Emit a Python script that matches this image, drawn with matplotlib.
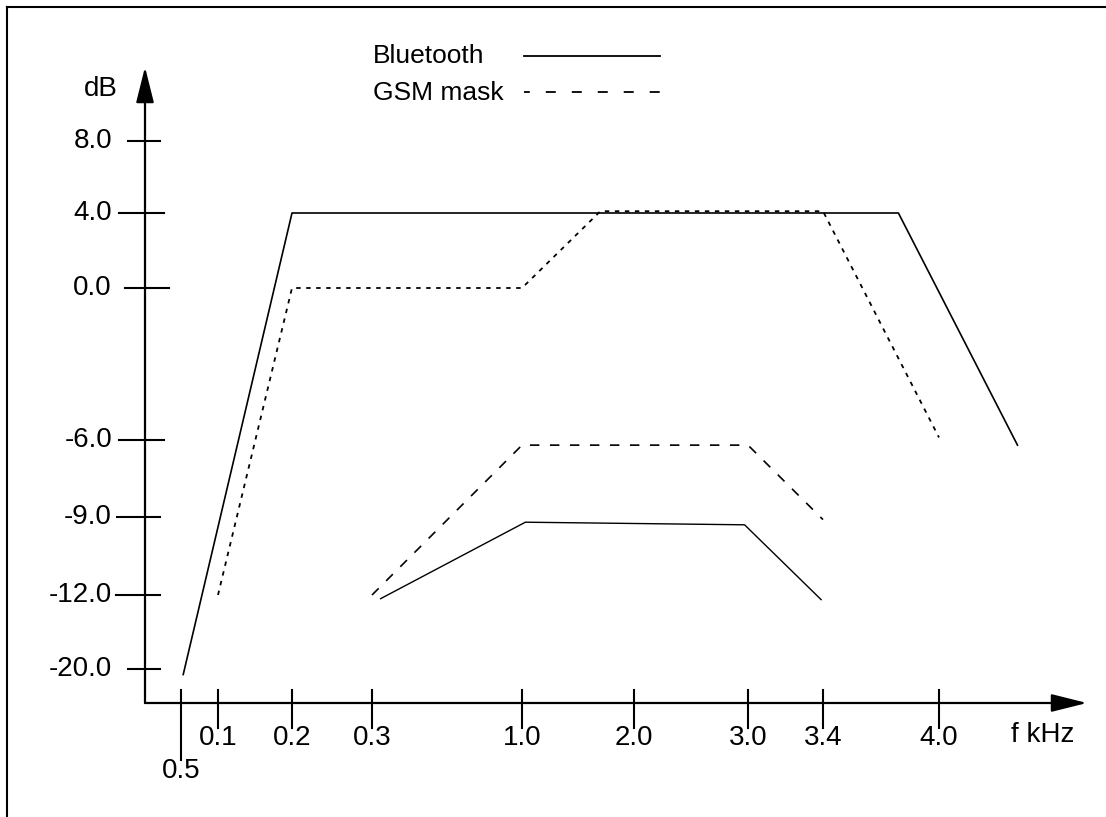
import numpy as np
import matplotlib
matplotlib.use('Agg')
import matplotlib.pyplot as plt
from matplotlib.lines import Line2D

plt.rcParams['font.family'] = ['Liberation Sans', 'DejaVu Sans']
plt.rcParams['lines.scale_dashes'] = False

# axis ticks
freq_ticks = [0.05, 0.1, 0.2, 0.3, 1.0, 2.0, 3.0, 3.4, 4.0]
freq_labels = ['0.5', '0.1', '0.2', '0.3', '1.0', '2.0', '3.0', '3.4', '4.0']
db_ticks = [8.0, 4.0, 0.0, -6.0, -9.0, -12.0, -20.0]
db_labels = ['8.0', '4.0', '0.0', '-6.0', '-9.0', '-12.0', '-20.0']

# curves, (kHz, dB)
bt_freq = [0.053, 0.2, 3.79, 4.47]
bt_db = [-20.6, 4.0, 4.0, -6.2]
gsm_freq = [0.1, 0.2, 1.0, 1.7, 3.4, 4.0]
gsm_db = [-12.0, 0.0, 0.0, 4.1, 4.1, -5.9]
bt2_freq = [0.34, 1.03, 2.97, 3.39]
bt2_db = [-12.4, -9.2, -9.3, -12.5]
gsm2_freq = [0.3, 1.0, 3.0, 3.4]
gsm2_db = [-12.0, -6.2, -6.2, -9.1]

W, H = 1106, 817

# sketch is not drawn to scale -> piecewise linear layout of both axes (figure pixels)
x_knots = [-0.2, 0.0, 0.05, 0.1, 0.2, 0.3, 1.0, 2.0, 3.0, 3.4, 4.0, 5.0]
x_pix = np.array([0, 145, 181, 218, 292, 372, 522, 634, 748, 823, 939, 1106])
y_knots = [-36.0, -20.0, -12.0, -9.0, -6.0, 0.0, 4.0, 8.0, 16.0]
y_pix = H - np.array([817, 669, 595, 517, 440, 288, 213, 141, 0])


def fwd_x(v):
    return np.interp(v, x_knots, x_pix)


def inv_x(p):
    return np.interp(p, x_pix, x_knots)


def fwd_y(v):
    return np.interp(v, y_knots, y_pix)


def inv_y(p):
    return np.interp(p, y_pix, y_knots)


def top(p):
    # dB value for a pixel row counted from the top of the image
    return inv_y(H - np.asarray(p, dtype=float))


fig = plt.figure(figsize=(W / 100, H / 100), dpi=100)
ax = fig.add_axes([0, 0, 1, 1])
ax.set_xscale('function', functions=(fwd_x, inv_x))
ax.set_yscale('function', functions=(fwd_y, inv_y))
ax.set_xlim(x_knots[0], x_knots[-1])
ax.set_ylim(y_knots[0], y_knots[-1])
ax.axis('off')

k = 'black'
x0 = float(inv_x(145))
y0 = float(top(703))

# axes with arrow heads
arrow = dict(arrowstyle='-|>,head_length=2.2,head_width=0.55', mutation_scale=10,
             lw=1.6, color=k, fc=k, shrinkA=0, shrinkB=0)
ax.annotate('', xy=(float(inv_x(1087)), y0), xytext=(x0, y0), arrowprops=arrow)
ax.annotate('', xy=(x0, float(top(67))), xytext=(x0, y0), arrowprops=arrow)

# y ticks (hand drawn, uneven lengths)
y_tick_ext = [(17, 15), (26, 19), (20, 24), (26, 19), (28, 15), (29, 15), (17, 15)]
for v, lab, (l, r) in zip(db_ticks, db_labels, y_tick_ext):
    ax.plot([inv_x(145 - l), inv_x(145 + r)], [v, v], color=k, lw=1.5)
    ax.text(inv_x(112), v, lab, ha='right', va='center', fontsize=20)

# x ticks
for v, lab in zip(freq_ticks, freq_labels):
    low = 760 if lab == '0.5' else 728
    ax.plot([v, v], [top(690), top(low)], color=k, lw=1.5)
    ty = 771 if lab == '0.5' else 738
    ax.text(v, top(ty), lab, ha='center', va='center', fontsize=20)

ax.text(inv_x(1043), top(735), 'f kHz', ha='center', va='center', fontsize=20)
ax.text(inv_x(118), top(89), 'dB', ha='right', va='center', fontsize=20)

# curves
ax.plot(bt_freq, bt_db, color=k, lw=1.2)
ax.plot(bt2_freq, bt2_db, color=k, lw=1.0)
ax.plot(gsm_freq, gsm_db, color=k, lw=1.3, linestyle=(0, (3.2, 4.0)))
ax.plot(gsm2_freq, gsm2_db, color=k, lw=1.2, linestyle=(0, (6.8, 7.6)))

# legend, drawn by hand
ax.text(inv_x(373), top(56), 'Bluetooth', ha='left', va='center', fontsize=19)
ax.text(inv_x(373), top(93), 'GSM mask', ha='left', va='center', fontsize=19)
ax.plot(inv_x([524, 660]), top([56, 56]), color=k, lw=1.3)
ax.plot(inv_x([524, 660]), top([92, 92]), color=k, lw=1.3, linestyle=(3, (7.2, 11.5)))

# page frame (left and top edges)
fig.add_artist(Line2D([7 / W, 7 / W], [0, 1 - 7 / H], color=k, lw=1.5, transform=fig.transFigure))
fig.add_artist(Line2D([7 / W, 1], [1 - 7 / H, 1 - 7 / H], color=k, lw=1.5, transform=fig.transFigure))

fig.savefig('out.png', dpi=100)
